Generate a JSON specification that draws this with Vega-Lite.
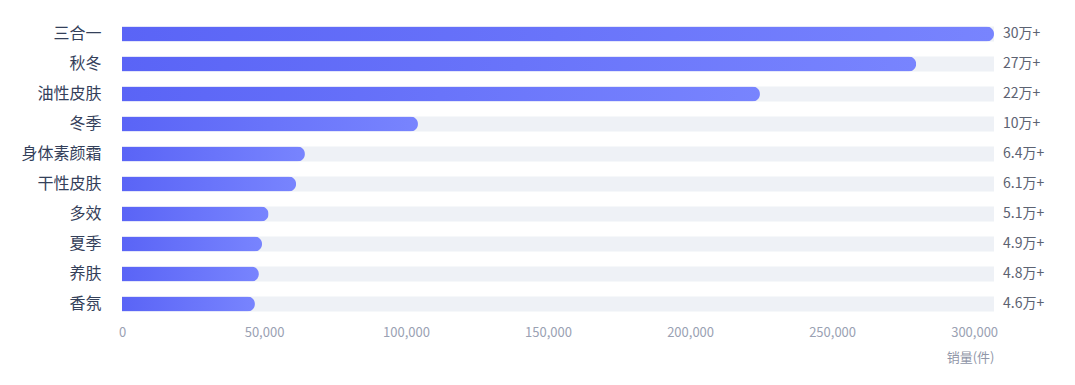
{
  "$schema": "https://vega.github.io/schema/vega-lite/v6.json",
  "autosize": "none",
  "width": 872,
  "height": 300,
  "padding": {"left": 122, "top": 19, "right": 81, "bottom": 66},
  "background": "white",
  "config": {
    "view": {"stroke": null},
    "font": "Noto Sans CJK SC"
  },
  "data": {
    "values": [
      {"name": "三合一", "value": 307000, "label": "30万+"},
      {"name": "秋冬", "value": 279600, "label": "27万+"},
      {"name": "油性皮肤", "value": 224600, "label": "22万+"},
      {"name": "冬季", "value": 104200, "label": "10万+"},
      {"name": "身体素颜霜", "value": 64400, "label": "6.4万+"},
      {"name": "干性皮肤", "value": 61300, "label": "6.1万+"},
      {"name": "多效", "value": 51600, "label": "5.1万+"},
      {"name": "夏季", "value": 49300, "label": "4.9万+"},
      {"name": "养肤", "value": 48200, "label": "4.8万+"},
      {"name": "香氛", "value": 46800, "label": "4.6万+"}
    ]
  },
  "transform": [
    {"joinaggregate": [{"op": "max", "field": "value", "as": "maxv"}]}
  ],
  "encoding": {
    "y": {
      "field": "name",
      "type": "nominal",
      "sort": null,
      "scale": {"paddingInner": 0.5, "paddingOuter": 0.25},
      "axis": {
        "title": null,
        "ticks": false,
        "domain": false,
        "labelPadding": 21,
        "labelFontSize": 16,
        "labelColor": "#34405a",
        "labelFont": "Noto Sans CJK SC"
      }
    }
  },
  "layer": [
    {
      "mark": {"type": "bar", "color": "#eef1f6"},
      "encoding": {
        "x": {
          "field": "maxv",
          "type": "quantitative",
          "scale": {"domain": [0, 307000], "nice": false},
          "axis": {
            "title": "销量(件)",
            "titleAnchor": "end",
            "titleColor": "#8f96a8",
            "titleFontSize": 13,
            "titleFontWeight": "normal",
            "titlePadding": 12,
            "values": [0, 50000, 100000, 150000, 200000, 250000, 300000],
            "format": ",d",
            "labelFlush": false,
            "ticks": false,
            "domain": false,
            "grid": false,
            "labelPadding": 7,
            "labelFontSize": 13,
            "labelColor": "#9aa1b3"
          }
        }
      }
    },
    {
      "mark": {
        "type": "bar",
        "cornerRadiusEnd": 7.5,
        "color": {
          "gradient": "linear",
          "x1": 0, "y1": 0, "x2": 1, "y2": 0,
          "stops": [
            {"offset": 0, "color": "#5a64f6"},
            {"offset": 1, "color": "#7884fe"}
          ]
        }
      },
      "encoding": {
        "x": {"field": "value", "type": "quantitative"}
      }
    },
    {
      "mark": {"type": "text", "align": "left", "dx": 9, "fontSize": 14, "color": "#5c6272"},
      "encoding": {
        "x": {"field": "maxv", "type": "quantitative"},
        "text": {"field": "label"}
      }
    }
  ]
}
